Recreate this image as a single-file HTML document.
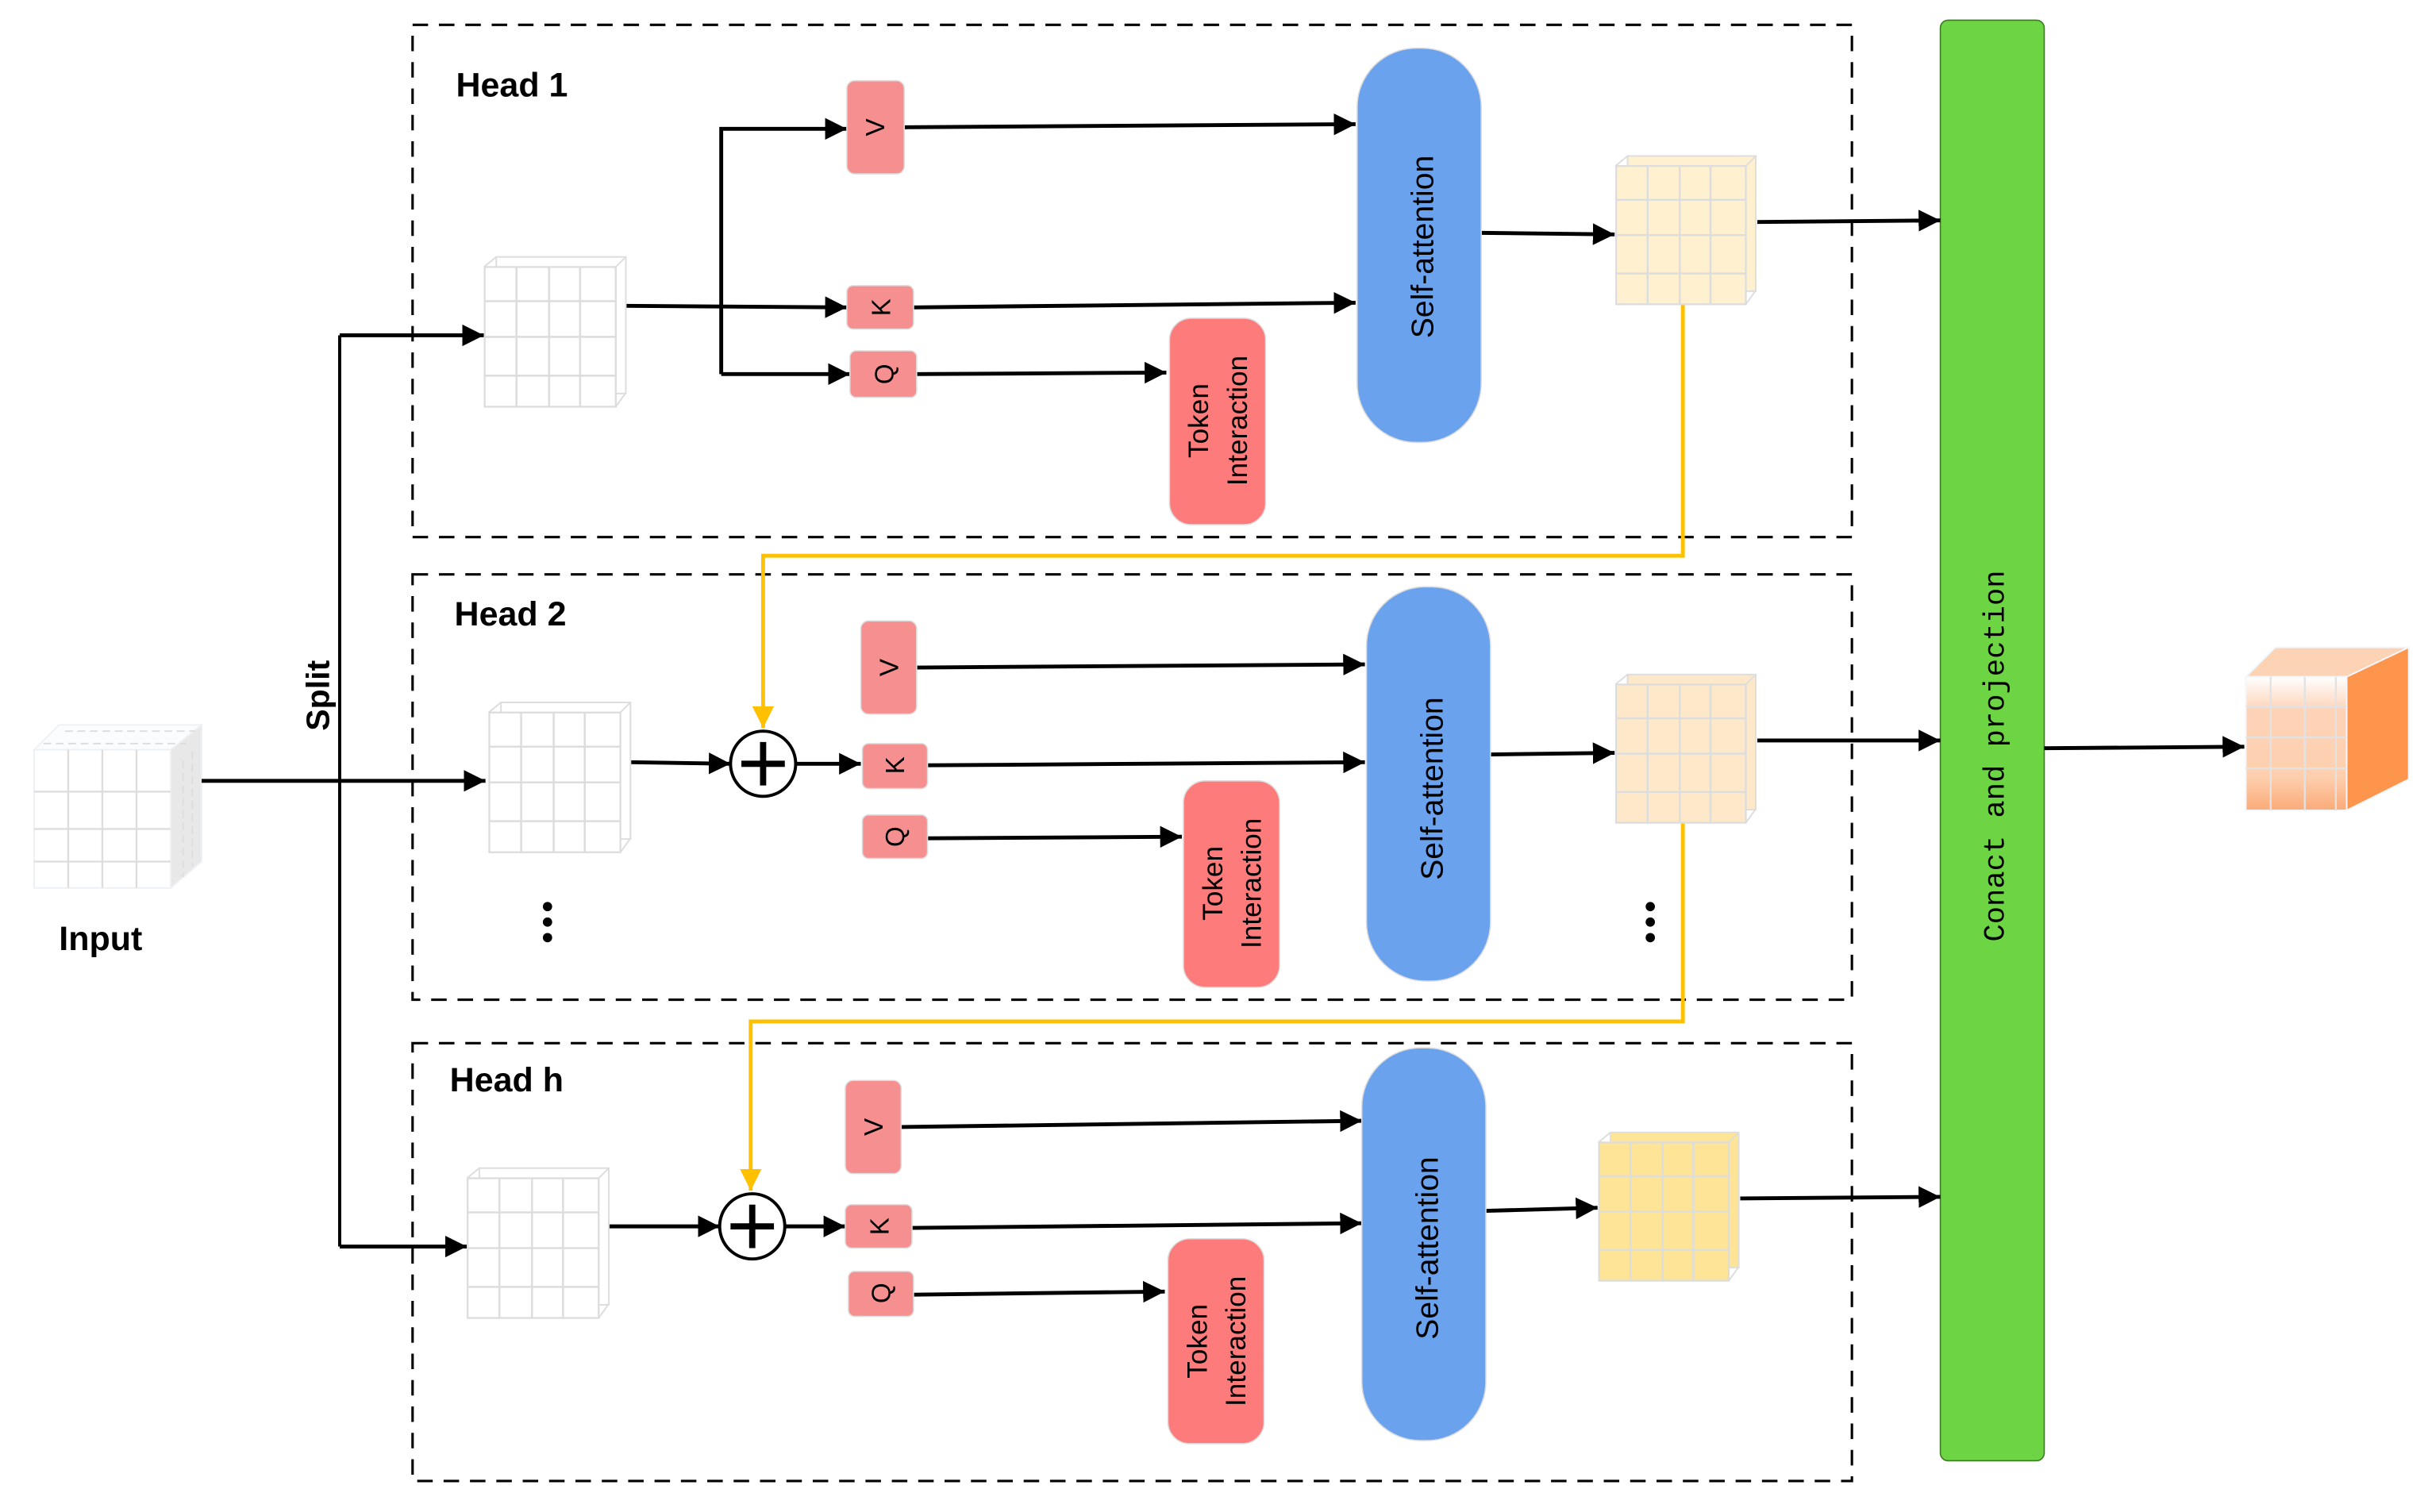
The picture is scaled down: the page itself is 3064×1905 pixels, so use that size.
<!DOCTYPE html>
<html><head><meta charset="utf-8"><style>html,body{margin:0;padding:0;background:#fff}svg{display:block}</style></head>
<body>
<svg xmlns="http://www.w3.org/2000/svg" width="3064" height="1905" viewBox="0 0 1568 974" preserveAspectRatio="none">
<defs>
<marker id="a" markerUnits="userSpaceOnUse" markerWidth="16" markerHeight="16" refX="14" refY="7" orient="auto"><path d="M0,0 L14,7 L0,14 z" fill="#000"/></marker>
<marker id="y" markerUnits="userSpaceOnUse" markerWidth="16" markerHeight="16" refX="14" refY="7" orient="auto"><path d="M0,0 L14,7 L0,14 z" fill="#ffc000"/></marker>
<symbol id="cube" viewBox="0 0 92 97" overflow="visible">
<rect x="8" y="0.5" width="83.5" height="88" fill="currentColor" stroke="#ddd" stroke-width="1"/>
<path d="M0,7 L8,0.5 M85,7 L91.5,0.5 M85,97 L91.5,88" stroke="#ddd" stroke-width="1" fill="none"/>
<rect x="0.5" y="7" width="84.5" height="90" fill="currentColor" stroke="#ddd" stroke-width="1.2"/>
<path d="M21,7V97 M42,7V97 M62,7V97 M0.5,29H85 M0.5,52H85 M0.5,77H85" stroke="#ddd" stroke-width="1.3"/>
</symbol>
<linearGradient id="og" x1="0" y1="0" x2="0" y2="1"><stop offset="0" stop-color="#fff"/><stop offset="0.25" stop-color="#fdd3b8"/><stop offset="0.75" stop-color="#fdcfae"/><stop offset="1" stop-color="#fbaa78"/></linearGradient>
</defs>

<g fill="none" stroke="#000" stroke-width="1.6" stroke-dasharray="10,7">
<rect x="266" y="16" width="928" height="330"/>
<rect x="266" y="370" width="928" height="274"/>
<rect x="266" y="672" width="928" height="282"/>
</g>

<rect x="1251" y="13" width="67" height="928" rx="5" fill="#6dd443" stroke="#3a7a20" stroke-width="0.8"/>
<text transform="translate(1292,487) rotate(-90)" text-anchor="middle" font-family="Liberation Mono, monospace" font-size="19" fill="#000">Conact and projection</text>

<g font-family="Liberation Sans, sans-serif" font-weight="bold" font-size="22" fill="#000">
<text x="294" y="62">Head 1</text>
<text x="293" y="403">Head 2</text>
<text x="290" y="703">Head h</text>
<text x="38" y="612">Input</text>
<text transform="translate(212,448) rotate(-90)" text-anchor="middle" font-size="21">Split</text>
</g>

<g>
<path d="M22,483 L38,467 L130,467 L118,483 Z" fill="#fbfcfd" stroke="#eef1f4"/>
<path d="M110,483 L130,467 L130,555 L110,572 Z" fill="#e8e8e8" stroke="#eef1f4"/>
<path d="M28,479 L120,479 M42,471 L126,471 M118,490 V565 M124,484 V558" stroke="#ddd" stroke-dasharray="5,3"/>
<rect x="22" y="483" width="88" height="89" fill="#fff" stroke="#eef1f4"/>
<path d="M44,483V572 M66,483V572 M88,483V572 M22,510H110 M22,534H110 M22,555H110" stroke="#ddd" stroke-width="1.2"/>
</g>

<g stroke="#000" stroke-width="2.5" fill="none">
<path d="M130,503 H313" marker-end="url(#a)"/>
<path d="M219,216 V803" stroke-width="2"/>
<path d="M219,216 H312" marker-end="url(#a)"/>
<path d="M219,803 H301" marker-end="url(#a)"/>
<path d="M403,197 L546,198" marker-end="url(#a)"/>
<path d="M465,241 V83 H546" marker-end="url(#a)"/>
<path d="M465,241 H548" marker-end="url(#a)"/>
<path d="M583,82 L874,80" marker-end="url(#a)"/>
<path d="M589,198 L874,195" marker-end="url(#a)"/>
<path d="M591,241 L752,240" marker-end="url(#a)"/>
<path d="M955,150 L1041,151" marker-end="url(#a)"/>
<path d="M1133,143 L1251,142" marker-end="url(#a)"/>
<path d="M406,491 L471,492" marker-end="url(#a)"/>
<path d="M513,492 L555,492" marker-end="url(#a)"/>
<path d="M591,430 L880,428" marker-end="url(#a)"/>
<path d="M598,493 L880,491" marker-end="url(#a)"/>
<path d="M598,540 L762,539" marker-end="url(#a)"/>
<path d="M961,486 L1041,485" marker-end="url(#a)"/>
<path d="M1133,477 L1251,477" marker-end="url(#a)"/>
<path d="M392,790 L464,790" marker-end="url(#a)"/>
<path d="M506,790 L545,790" marker-end="url(#a)"/>
<path d="M581,726 L878,722" marker-end="url(#a)"/>
<path d="M588,791 L878,788" marker-end="url(#a)"/>
<path d="M589,834 L751,832" marker-end="url(#a)"/>
<path d="M958,780 L1030,778" marker-end="url(#a)"/>
<path d="M1122,772 L1251,771" marker-end="url(#a)"/>
<path d="M1318,482 L1447,481" marker-end="url(#a)"/>
</g>

<g stroke="#ffc000" stroke-width="2.5" fill="none">
<path d="M1085,195 V358 H492 V469" marker-end="url(#y)"/>
<path d="M1085,530 V658 H484 V767" marker-end="url(#y)"/>
</g>

<g stroke="#000" fill="#fff">
<circle cx="492" cy="492" r="21" stroke-width="2"/>
<path d="M492,478 V506 M478,492 H506" stroke-width="4"/>
<circle cx="485" cy="790" r="21" stroke-width="2"/>
<path d="M485,776 V804 M471,790 H499" stroke-width="4"/>
</g>

<use href="#cube" x="312" y="165" width="92" height="97" color="#ffffff"/>
<use href="#cube" x="315" y="452" width="92" height="97" color="#ffffff"/>
<use href="#cube" x="301" y="752" width="92" height="97" color="#ffffff"/>
<use href="#cube" x="1041" y="100" width="92" height="96" color="#fff1d0"/>
<use href="#cube" x="1041" y="434" width="92" height="96" color="#fde9c9"/>
<use href="#cube" x="1030" y="729" width="92" height="96" color="#fde496"/>

<g>
<path d="M1448,436 L1467,417 L1553,417 L1513,436 Z" fill="#fdd3b6" stroke="#f3f6fb"/>
<path d="M1513,436 L1553,417 L1553,502 L1513,522 Z" fill="#fd954c" stroke="#f3f6fb"/>
<rect x="1448" y="436" width="65" height="86" fill="url(#og)" stroke="#f3f6fb"/>
<path d="M1464,436V522 M1486,436V522 M1506,436V522 M1448,455H1513 M1448,475H1513 M1448,495H1513" stroke="#e2e2e2" stroke-width="1.2"/>
</g>

<g fill="#000">
<circle cx="353" cy="584" r="3"/><circle cx="353" cy="594" r="3"/><circle cx="353" cy="604" r="3"/>
<circle cx="1064" cy="584" r="3"/><circle cx="1064" cy="594" r="3"/><circle cx="1064" cy="604" r="3"/>
</g>

<g fill="#f68f8f" stroke="#ddd" stroke-width="0.8">
<rect x="546" y="52" width="37" height="60" rx="5"/>
<rect x="546" y="184" width="43" height="28" rx="4"/>
<rect x="548" y="226" width="43" height="30" rx="4"/>
<rect x="555" y="400" width="36" height="60" rx="5"/>
<rect x="556" y="479" width="42" height="29" rx="4"/>
<rect x="556" y="525" width="42" height="28" rx="4"/>
<rect x="545" y="696" width="36" height="60" rx="5"/>
<rect x="545" y="776" width="43" height="28" rx="4"/>
<rect x="547" y="819" width="42" height="29" rx="4"/>
</g>
<g font-family="Liberation Sans, sans-serif" font-size="17" fill="#000" text-anchor="middle">
<text transform="translate(570,82) rotate(-90)">V</text>
<text transform="translate(574,198) rotate(-90)">K</text>
<text transform="translate(576,241) rotate(-90)">Q</text>
<text transform="translate(579,430) rotate(-90)">V</text>
<text transform="translate(583,493) rotate(-90)">K</text>
<text transform="translate(583,539) rotate(-90)">Q</text>
<text transform="translate(569,726) rotate(-90)">V</text>
<text transform="translate(573,790) rotate(-90)">K</text>
<text transform="translate(574,833) rotate(-90)">Q</text>
</g>

<g fill="#fd7b7b" stroke="#ddd" stroke-width="0.8">
<rect x="754" y="205" width="62" height="133" rx="14"/>
<rect x="763" y="503" width="62" height="133" rx="14"/>
<rect x="753" y="798" width="62" height="132" rx="14"/>
</g>
<g font-family="Liberation Sans, sans-serif" font-size="18" fill="#000" text-anchor="middle">
<text transform="translate(785,271) rotate(-90)"><tspan x="0" y="-6">Token</tspan><tspan x="0" y="19">Interaction</tspan></text>
<text transform="translate(794,569) rotate(-90)"><tspan x="0" y="-6">Token</tspan><tspan x="0" y="19">Interaction</tspan></text>
<text transform="translate(784,864) rotate(-90)"><tspan x="0" y="-6">Token</tspan><tspan x="0" y="19">Interaction</tspan></text>
</g>

<g fill="#6ba2ee" stroke="#ddd" stroke-width="0.8">
<rect x="875" y="31" width="80" height="254" rx="38"/>
<rect x="881" y="378" width="80" height="254" rx="38"/>
<rect x="878" y="675" width="80" height="253" rx="38"/>
</g>
<g font-family="Liberation Sans, sans-serif" font-size="20" fill="#000" text-anchor="middle">
<text transform="translate(924,159) rotate(-90)">Self-attention</text>
<text transform="translate(930,508) rotate(-90)">Self-attention</text>
<text transform="translate(927,804) rotate(-90)">Self-attention</text>
</g>
</svg>
</body></html>
